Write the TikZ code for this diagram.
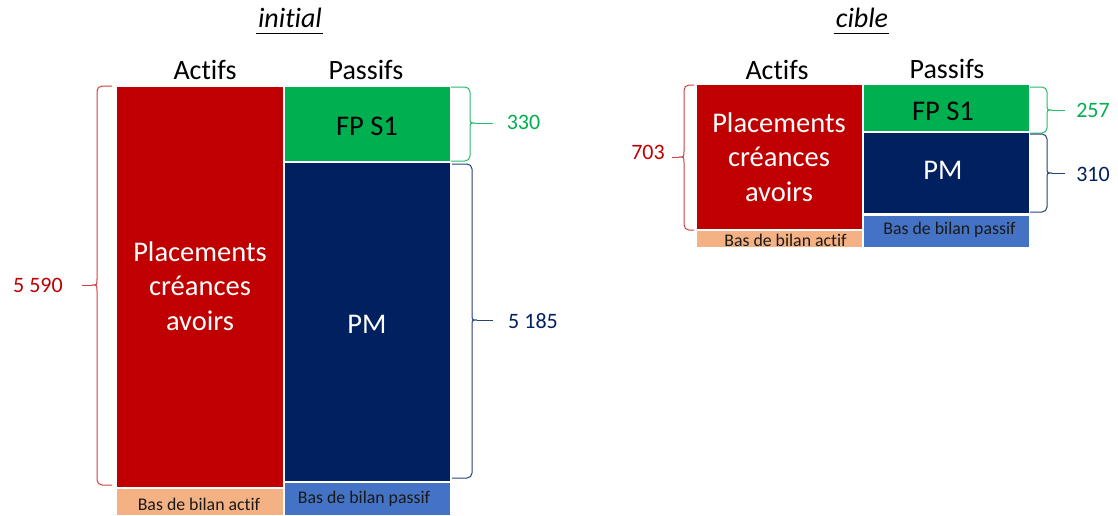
\documentclass[tikz,border=0pt]{standalone}
\usepackage{fontspec}
\setmainfont{Carlito}[Ligatures={NoCommon,NoRare}]
\usetikzlibrary{calc}

\definecolor{bilred}{HTML}{C00000}
\definecolor{bilgreen}{HTML}{00B050}
\definecolor{bilnavy}{HTML}{002060}
\definecolor{bilorange}{HTML}{F4B183}
\definecolor{bilblue}{HTML}{4472C4}

% curly bracket with straight hooks: colour, hook x, spine x, top y, bottom y, middle y, cusp x, end x
\newcommand{\balbrace}[8]{%
  \draw[#1, rounded corners=5pt] (#2,#4) -- (#3,#4) -- (#3,#6-6);
  \draw[#1] (#3,#6-6) .. controls (#3,#6) .. (#7,#6) .. controls (#3,#6) .. (#3,#6+6);
  \draw[#1, rounded corners=5pt] (#3,#6+6) -- (#3,#5) -- (#2,#5);
  \draw[#1] (#7,#6) -- (#8,#6);
}

\begin{document}
\begin{tikzpicture}[x=1pt, y=-1pt,
  block/.style={inner sep=0pt, outer sep=0pt, anchor=north west},
  title/.style={font=\fontsize{28}{34}\selectfont\itshape, inner sep=0pt, anchor=base},
  head/.style={font=\fontsize{28}{34}\selectfont, inner sep=0pt, anchor=base},
  big/.style={font=\fontsize{28.5}{34.3}\selectfont, inner sep=0pt, align=center},
  small/.style={font=\fontsize{17.8}{21}\selectfont, inner sep=0pt, text=black!90},
  amount/.style={font=\fontsize{22}{26}\selectfont, inner sep=0pt},
  brace/.style={line width=1pt}
]
\useasboundingbox[fill=white] (0,0) rectangle (1118,515);

% ---------- initial ----------
\node[title] (tinit) at (290,27) {initial};
\draw[line width=1.6pt] ($(tinit.south west)+(-2,6)$) -- ($(tinit.south east)+(1,6)$);
\node[head] (actL) at (205,79) {Actifs};
\node[head] (pasL) at (366,79) {Passifs};

\node[block, fill=bilred, minimum width=166pt, minimum height=400pt] (redL) at (117,87) {};
\node[block, fill=bilorange, minimum width=166pt, minimum height=26pt] (basaL) at (117,489) {};
\node[block, fill=bilgreen, minimum width=165pt, minimum height=74pt] (fpL) at (285,87) {};
\node[block, fill=bilnavy, minimum width=165pt, minimum height=318pt] (pmL) at (285,163) {};
\node[block, fill=bilblue, minimum width=165pt, minimum height=32pt] (baspL) at (285,483) {};

\node[big, text=white] (placL) at (200,286) {Placements\\créances\\avoirs};
\node[big, text=black] (fptL) at (367,126) {FP S1};
\node[big, text=white] (pmtL) at (367,324) {PM};
\node[small] (basatL) at (199,504.5) {Bas de bilan actif};
\node[small] (basptL) at (364,499) {Bas de bilan passif};

\balbrace{brace, bilred!75!white}{112}{97}{86}{485}{285}{92}{82}
\balbrace{brace, bilgreen!85!white}{451}{470}{87}{161}{123}{475}{493}
\balbrace{brace, bilnavy!85!white}{452}{472}{164}{478}{320}{477}{493}

\node[amount, text=bilred] (sumL) at (38,285.5) {5 590};
\node[amount, text=bilgreen] (fpvL) at (523.5,122.5) {330};
\node[amount, text=bilnavy] (pmvL) at (533,321) {5 185};

% ---------- cible ----------
\node[title] (tcib) at (862,27) {cible};
\draw[line width=1.6pt] ($(tcib.south west)+(-2,6)$) -- ($(tcib.south east)+(1,6)$);
\node[head] (actR) at (777,79) {Actifs};
\node[head] (pasR) at (947,78) {Passifs};

\node[block, fill=bilred, minimum width=165pt, minimum height=144pt] (redR) at (697,85) {};
\node[block, fill=bilorange, minimum width=165pt, minimum height=16pt] (basaR) at (697,231) {};
\node[block, fill=bilgreen, minimum width=165pt, minimum height=46pt] (fpR) at (864,85) {};
\node[block, fill=bilnavy, minimum width=165pt, minimum height=80pt] (pmR) at (864,133) {};
\node[block, fill=bilblue, minimum width=165pt, minimum height=31pt] (baspR) at (864,216) {};

\node[big, text=white] (placR) at (779,157) {Placements\\créances\\avoirs};
\node[big, text=black] (fptR) at (943,111) {FP S1};
\node[big, text=white] (pmtR) at (943,170.5) {PM};
\node[small] (basatR) at (785.5,240) {Bas de bilan actif};
\node[small] (basptR) at (949.5,230) {Bas de bilan passif};

\balbrace{brace, bilred!75!white}{694}{684}{85}{230}{157}{679}{672}
\balbrace{brace, bilgreen!85!white}{1030}{1047}{87}{133}{110}{1052}{1065}
\balbrace{brace, bilnavy!85!white}{1030}{1047}{134}{212}{173}{1052}{1065}

\node[amount, text=bilred] (sumR) at (648,152) {703};
\node[amount, text=bilgreen] (fpvR) at (1093,110) {257};
\node[amount, text=bilnavy] (pmvR) at (1093,174) {310};
\end{tikzpicture}
\end{document}
